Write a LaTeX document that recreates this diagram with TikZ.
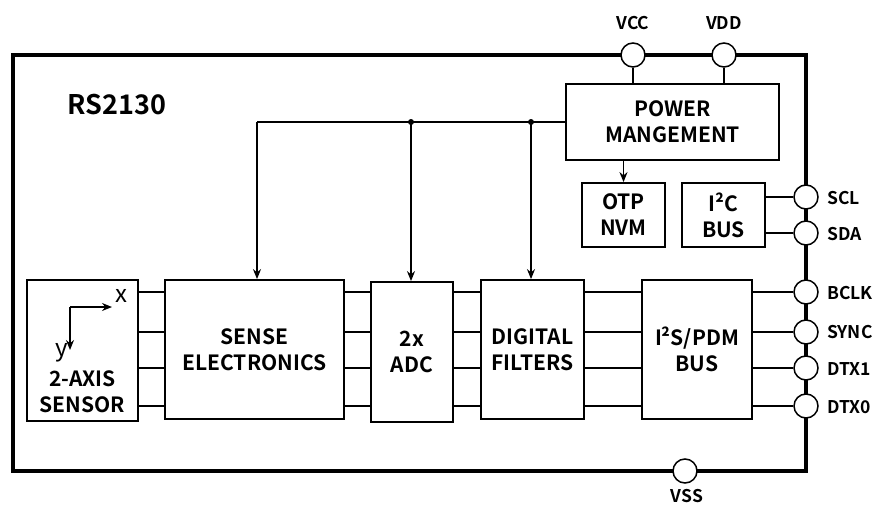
\documentclass[tikz,border=0pt]{standalone}
\usepackage{fontspec}
\setmainfont{Noto Sans CJK SC}[BoldFont={* Bold}]
\usetikzlibrary{arrows.meta}
\tikzset{
  blk/.style={draw, line width=1.8pt, inner sep=0pt, align=center, font=\bfseries\fontsize{21}{26}\selectfont},
  lbl/.style={inner sep=0pt, align=center, font=\bfseries\fontsize{21}{26}\selectfont},
  pin/.style={draw, circle, fill=white, line width=1.5pt, minimum size=24pt, inner sep=0pt},
  pinlbl/.style={font=\bfseries\fontsize{17.5}{20}\selectfont, inner sep=0pt},
  wire/.style={line width=1.6pt},
  arr/.style={line width=1.4pt, -{Stealth[length=10pt,width=8pt]}},
}
\begin{document}
\begin{tikzpicture}[x=1pt,y=-1pt]
\useasboundingbox (0,0) rectangle (880,506);
% outer frame
\draw[line width=3.5pt] (13,55) rectangle (806,471);
\node[font=\bfseries\fontsize{27}{30}\selectfont, inner sep=0pt] (title) at (117,105) {RS2130};

% blocks
\node[blk, minimum width=213pt, minimum height=76pt] (pm) at (672.5,122) {POWER\\MANGEMENT};
\node[blk, minimum width=83pt, minimum height=64pt] (otp) at (623.5,215) {OTP\\NVM};
\node[blk, minimum width=83pt, minimum height=64pt] (i2c) at (723.5,215) {I²C\\BUS};
\node[blk, minimum width=111pt, minimum height=141pt] (sensor) at (82.5,350.5) {};
\node[lbl] (sensorlbl) at (82.5,392) {2-AXIS\\SENSOR};
\node[blk, minimum width=179pt, minimum height=139pt] (sense) at (254.5,349.5) {SENSE\\ELECTRONICS};
\node[blk, minimum width=82pt, minimum height=140pt] (adc) at (412,352) {2x\\ADC};
\node[blk, minimum width=103pt, minimum height=139pt] (df) at (532.5,349.5) {DIGITAL\\FILTERS};
\node[blk, minimum width=110pt, minimum height=139pt] (i2s) at (697,349.5) {I²S/PDM\\BUS};

% sensor axes
\coordinate (ax0) at (70,307);
\coordinate (axx) at (112,307);
\coordinate (axy) at (70,350);
\draw[arr] (ax0) -- (axx);
\draw[arr] (ax0) -- (axy);
\node[font=\fontsize{24}{26}\selectfont, inner sep=0pt] (xl) at (121,296) {x};
\node[font=\fontsize{24}{26}\selectfont, inner sep=0pt] (yl) at (62,353) {y};

% signal wires
\foreach \yy in {292,332,368,406}{
  \draw[wire] (sensor.east |- 0,\yy) -- (sense.west |- 0,\yy);
  \draw[wire] (sense.east |- 0,\yy) -- (adc.west |- 0,\yy);
  \draw[wire] (adc.east |- 0,\yy) -- (df.west |- 0,\yy);
  \draw[wire] (df.east |- 0,\yy) -- (i2s.west |- 0,\yy);
}

% pins
\node[pin] (vcc) at (633,55) {};
\node[pin] (vdd) at (724,55) {};
\node[pin] (scl) at (806,197) {};
\node[pin] (sda) at (806,233) {};
\node[pin] (bclk) at (806,292) {};
\node[pin] (sync) at (806,332) {};
\node[pin] (dtx1) at (806,368) {};
\node[pin] (dtx0) at (806,406) {};
\node[pin] (vss) at (685,471) {};

\node[pinlbl] (vccl) at (633,23) {VCC};
\node[pinlbl] (vddl) at (724,23) {VDD};
\node[pinlbl, anchor=west] (scll) at (827,198) {SCL};
\node[pinlbl, anchor=west] (sdal) at (827,234) {SDA};
\node[pinlbl, anchor=west] (bclkl) at (827,293) {BCLK};
\node[pinlbl, anchor=west] (syncl) at (827,332) {SYNC};
\node[pinlbl, anchor=west] (dtx1l) at (827,369) {DTX1};
\node[pinlbl, anchor=west] (dtx0l) at (827,407) {DTX0};
\node[pinlbl] (vssl) at (687,496) {VSS};

% pin wires
\draw[wire] (vcc) -- (vcc |- pm.north);
\draw[wire] (vdd) -- (vdd |- pm.north);
\draw[wire] (i2c.east |- scl) -- (scl);
\draw[wire] (i2c.east |- sda) -- (sda);
\foreach \p in {bclk,sync,dtx1,dtx0}{
  \draw[wire] (i2s.east |- \p) -- (\p);
}

% power distribution
\draw[arr] (pm.south -| otp.north) -- (otp.north);
\coordinate (b0) at (257,122);
\coordinate (b1) at (411,122);
\coordinate (b2) at (531,122);
\draw[wire] (pm.west) -- (b0);
\draw[arr] (b0) -- (b0 |- sense.north);
\draw[arr] (b1) -- (b1 |- adc.north);
\draw[arr] (b2) -- (b2 |- df.north);
\fill (b1) circle (3pt);
\fill (b2) circle (3pt);
\end{tikzpicture}
\end{document}
